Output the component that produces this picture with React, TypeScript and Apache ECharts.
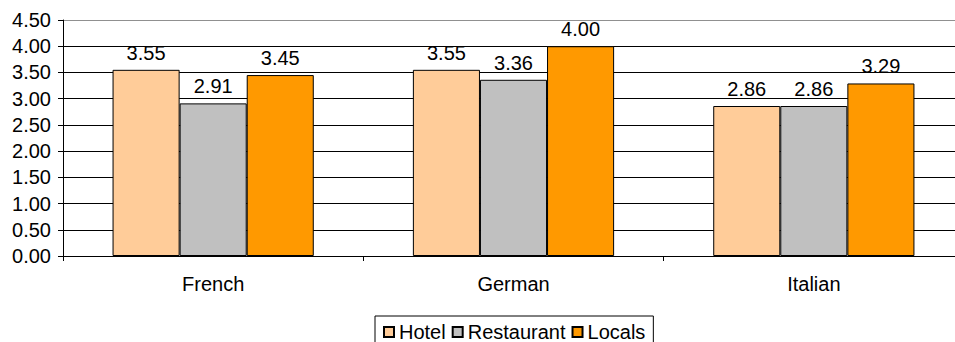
import React, { useEffect, useRef } from "react";
import * as echarts from "echarts";

const categories = ["French", "German", "Italian"];
const hotel = [3.55, 3.55, 2.86];
const restaurant = [2.91, 3.36, 2.86];
const locals = [3.45, 4.0, 3.29];
const seriesNames = ["Hotel", "Restaurant", "Locals"];
const seriesColors = ["#FFCC99", "#C0C0C0", "#FF9900"];

const FONT = "'Liberation Sans', Arial, sans-serif";

export default function App() {
  const ref = useRef<HTMLDivElement>(null);
  useEffect(() => {
    document.body.style.margin = "0";
    const chart = echarts.init(ref.current!, undefined, { renderer: "svg" });
    const data = [hotel, restaurant, locals];
    const splitColors = ["#000", "#000", "#000", "#000", "#000", "#000", "#000", "#000", "#000", "#909090"];
    chart.setOption({
      animation: false,
      textStyle: { fontFamily: FONT },
      grid: { left: 63, top: 20, width: 901, height: 236 },
      legend: {
        data: seriesNames,
        top: 316,
        left: 375,
        orient: "horizontal",
        itemWidth: 10,
        itemHeight: 10,
        itemGap: 6,
        borderColor: "#000",
        borderWidth: 1,
        borderRadius: 0,
        padding: [6, 8, 20, 8],
        textStyle: { fontFamily: FONT, fontSize: 20, color: "#000" },
        icon: "rect",
      },
      xAxis: {
        type: "category",
        data: categories,
        axisLine: { lineStyle: { color: "#000", width: 1 } },
        axisTick: { show: true, length: 5, lineStyle: { color: "#000" } },
        axisLabel: { fontFamily: FONT, fontSize: 20, color: "#000", margin: 18 },
        splitLine: { show: false },
      },
      yAxis: {
        type: "value",
        min: 0,
        max: 4.5,
        interval: 0.5,
        axisLine: { show: true, lineStyle: { color: "#000", width: 1 } },
        axisTick: { show: true, length: 5, lineStyle: { color: "#000" } },
        axisLabel: {
          fontFamily: FONT,
          fontSize: 20,
          color: "#000",
          margin: 12,
          formatter: (v: number) => v.toFixed(2),
        },
        splitLine: { show: true, lineStyle: { color: splitColors, width: 1 } },
      },
      series: seriesNames.map((name, i) => ({
        name,
        type: "bar",
        data: data[i],
        barGap: "0%",
        barCategoryGap: "33%",
        itemStyle: { color: seriesColors[i], borderColor: "#000", borderWidth: 1 },
        label: {
          show: true,
          position: "top",
          distance: 7,
          fontFamily: FONT,
          fontSize: 20,
          color: "#000",
          formatter: (p: any) => Number(p.value).toFixed(2),
        },
      })),
    });
    return () => chart.dispose();
  }, []);
  return (
    <div style={{ position: "absolute", left: 0, top: 0, width: 955, height: 342, overflow: "hidden" }}>
      <div ref={ref} style={{ position: "absolute", left: 0, top: 0, width: 975, height: 342 }} />
    </div>
  );
}
